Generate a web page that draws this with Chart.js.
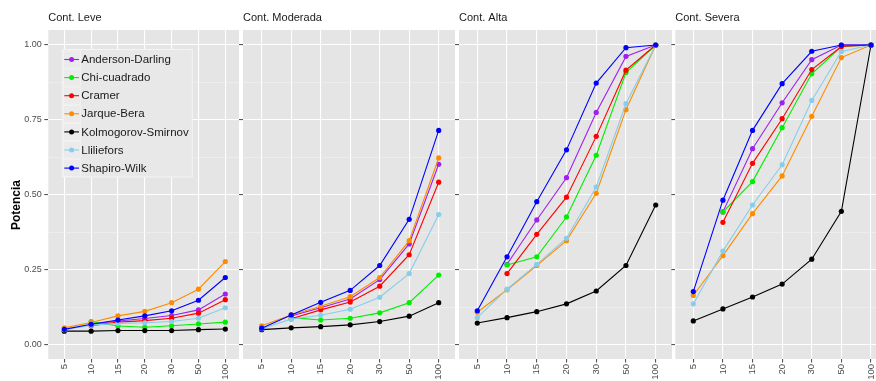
<!DOCTYPE html>
<html><head><meta charset="utf-8">
<script src="https://cdn.jsdelivr.net/npm/chart.js@4.4.1/dist/chart.umd.min.js"></script>
<style>
html,body{margin:0;padding:0;background:#fff;width:876px;height:381px;overflow:hidden;position:relative;}
canvas{position:absolute;left:0;top:0;}
</style></head><body>
<canvas id="c0" width="900" height="381"></canvas>
<canvas id="c1" width="900" height="381"></canvas>
<canvas id="c2" width="900" height="381"></canvas>
<canvas id="c3" width="900" height="381"></canvas>
<script>
// ---- data ----
const categories = ['5', '10', '15', '20', '30', '50', '100'];
const tests = ['Anderson-Darling', 'Chi-cuadrado', 'Cramer', 'Jarque-Bera', 'Kolmogorov-Smirnov', 'Lliliefors', 'Shapiro-Wilk'];
const panelTitles = ['Cont. Leve', 'Cont. Moderada', 'Cont. Alta', 'Cont. Severa'];
const yTicks = [0, 0.25, 0.5, 0.75, 1.0];
const yMinorTicks = [0.125, 0.375, 0.625, 0.875];

// rows follow the order of `tests`; null = not computed for that size
const leve = [
  [null, 0.068, 0.079, 0.087, 0.097, 0.116, 0.169],
  [null, 0.077, 0.062, 0.058, 0.063, 0.069, 0.075],
  [null, 0.063, 0.075, 0.080, 0.088, 0.105, 0.150],
  [0.056, 0.074, 0.096, 0.111, 0.140, 0.185, 0.277],
  [0.045, 0.045, 0.047, 0.047, 0.047, 0.050, 0.052],
  [0.050, 0.065, 0.071, 0.073, 0.077, 0.088, 0.123],
  [0.051, 0.068, 0.082, 0.096, 0.113, 0.148, 0.224]
];
const moderada = [
  [null, 0.096, 0.123, 0.152, 0.217, 0.336, 0.602],
  [null, 0.090, 0.082, 0.088, 0.106, 0.140, 0.232],
  [null, 0.086, 0.116, 0.142, 0.195, 0.300, 0.542],
  [0.063, 0.099, 0.128, 0.160, 0.224, 0.347, 0.623],
  [0.050, 0.056, 0.060, 0.066, 0.077, 0.095, 0.140],
  [0.053, 0.085, 0.098, 0.118, 0.158, 0.237, 0.434],
  [0.055, 0.099, 0.141, 0.181, 0.264, 0.418, 0.715]
];
const alta = [
  [null, 0.268, 0.416, 0.557, 0.775, 0.962, 1.000],
  [null, 0.266, 0.293, 0.426, 0.632, 0.908, 1.000],
  [null, 0.237, 0.368, 0.492, 0.695, 0.916, 1.000],
  [0.108, 0.183, 0.264, 0.347, 0.505, 0.784, 1.000],
  [0.072, 0.090, 0.110, 0.136, 0.179, 0.264, 0.466],
  [0.090, 0.185, 0.268, 0.355, 0.526, 0.804, 1.000],
  [0.113, 0.293, 0.477, 0.650, 0.873, 0.991, 1.000]
];
const severa = [
  [null, 0.443, 0.654, 0.807, 0.951, 1.000, 1.000],
  [null, 0.443, 0.544, 0.724, 0.904, 0.995, 1.000],
  [null, 0.408, 0.605, 0.754, 0.918, 0.995, 1.000],
  [0.164, 0.297, 0.437, 0.563, 0.762, 0.958, 1.000],
  [0.079, 0.119, 0.159, 0.202, 0.285, 0.445, 1.000],
  [0.136, 0.312, 0.466, 0.600, 0.815, 0.978, 1.000],
  [0.177, 0.482, 0.715, 0.871, 0.979, 1.000, 1.000]
];
const panelData = [leve, moderada, alta, severa];

// ---- styling / layout ----
const colors = ['#A020F0', '#00EE00', '#FF0000', '#FF8C00', '#000000', '#87CEEB', '#0000FF'];
const FONT = "'Liberation Sans', Arial, Helvetica, sans-serif";
Chart.defaults.font.family = FONT;
const CANVAS_W = 900;
const PLOT_TOP = 30, PLOT_BOTTOM = 359;
// panel geometry: left/right edge of the grey area, pixel of first and last category
const geom = [
  {L: 48.3, R: 239.0, x1: 64.3, x7: 225.3},
  {L: 243.0, R: 455.0, x1: 261.7, x7: 438.7},
  {L: 459.0, R: 672.0, x1: 477.3, x7: 655.7},
  {L: 675.3, R: 888.8, x1: 693.3, x7: 871.0}
];
const Y_AXIS_W = 48.3;

const panelBg = {
  id: 'panelBg',
  beforeDraw(chart) {
    const a = chart.chartArea, ctx = chart.ctx;
    ctx.save();
    ctx.fillStyle = '#E5E5E5';
    ctx.fillRect(a.left, a.top, a.right - a.left, a.bottom - a.top);
    ctx.restore();
  }
};

const extras = {
  id: 'extras',
  afterDraw(chart, args, opts) {
    if (!opts.first) return;
    const ctx = chart.ctx;
    // y axis title
    ctx.save();
    ctx.translate(16.5, 205);
    ctx.rotate(-Math.PI / 2);
    ctx.font = 'bold 12px ' + FONT;
    ctx.fillStyle = '#000';
    ctx.textAlign = 'center';
    ctx.textBaseline = 'middle';
    ctx.fillText('Potencia', 0, 0);
    ctx.restore();
    // legend inside first panel
    const bx = 62.3, by = 49.5, rowH = 18.1;
    ctx.save();
    ctx.fillStyle = '#E8E8E8';
    ctx.strokeStyle = '#F4F4F4';
    ctx.lineWidth = 1;
    ctx.fillRect(bx, by, 130, 127.5);
    ctx.strokeRect(bx, by, 130, 127.5);
    ctx.font = '11.5px ' + FONT;
    ctx.textBaseline = 'middle';
    ctx.textAlign = 'left';
    tests.forEach((t, i) => {
      const cy = by + 10 + rowH * i;
      ctx.fillStyle = '#EBEBEB';
      ctx.strokeStyle = '#F6F6F6';
      ctx.lineWidth = 0.6;
      ctx.fillRect(bx + 1, cy - 8.5, 17, 17);
      ctx.strokeRect(bx + 1, cy - 8.5, 17, 17);
      ctx.strokeStyle = colors[i];
      ctx.lineWidth = 1.1;
      ctx.beginPath();
      ctx.moveTo(bx + 2, cy);
      ctx.lineTo(bx + 16.7, cy);
      ctx.stroke();
      ctx.fillStyle = colors[i];
      ctx.beginPath();
      ctx.arc(bx + 9.3, cy, 2.5, 0, Math.PI * 2);
      ctx.fill();
      ctx.fillStyle = '#1A1A1A';
      ctx.fillText(t, bx + 19, cy + 0.5);
    });
    ctx.restore();
  }
};

function makeChart(p) {
  const g = geom[p];
  const s = (g.x7 - g.x1) / 6;
  const xmin = 1 - (g.x1 - g.L) / s;
  const xmax = 7 + (g.R - g.x7) / s;
  const first = p === 0;
  const yw = first ? Y_AXIS_W : 0;
  const datasets = tests.map((t, i) => ({
    label: t,
    data: panelData[p][i].map((v, k) => ({x: k + 1, y: v})),
    borderColor: colors[i],
    backgroundColor: colors[i],
    borderWidth: 1.1,
    pointRadius: 2.6,
    pointBorderWidth: 0,
    pointHoverRadius: 2.6,
    tension: 0,
    spanGaps: false,
    order: tests.length - 1 - i
  }));
  return new Chart(document.getElementById('c' + p), {
    type: 'line',
    data: {datasets},
    plugins: [panelBg, extras],
    options: {
      responsive: false,
      animation: false,
      devicePixelRatio: 1,
      events: [],
      layout: {padding: {left: g.L - yw, right: CANVAS_W - g.R, top: 0, bottom: 0}},
      plugins: {
        legend: {display: false},
        tooltip: {enabled: false},
        title: {
          display: true,
          text: panelTitles[p],
          align: 'start',
          fullSize: false,
          color: '#1A1A1A',
          font: {size: 11, weight: 'normal', family: FONT, lineHeight: 1.2},
          padding: {top: 10.9, bottom: 5.9}
        },
        extras: {first}
      },
      scales: {
        x: {
          type: 'linear',
          min: xmin,
          max: xmax,
          afterBuildTicks: (sc) => { sc.ticks = categories.map((c, k) => ({value: k + 1})); },
          afterFit: (sc) => { sc.height = 381 - PLOT_BOTTOM; },
          border: {display: false},
          grid: {color: '#FFFFFF', lineWidth: 1.1, tickColor: '#555555', tickLength: 3.5, drawTicks: true},
          ticks: {
            autoSkip: false,
            minRotation: 90,
            maxRotation: 90,
            padding: 1.5,
            color: '#4D4D4D',
            font: {size: 9.5, family: FONT},
            callback: (v) => categories[Math.round(v) - 1]
          }
        },
        y: {
          type: 'linear',
          min: -0.048,
          max: 1.05,
          afterBuildTicks: (sc) => {
            sc.ticks = yTicks.concat(yMinorTicks).sort((a, b) => a - b).map(v => ({value: v}));
          },
          afterFit: (sc) => { sc.width = yw; },
          border: {display: false},
          grid: {
            color: (c) => yTicks.includes(c.tick && c.tick.value) ? '#FFFFFF' : '#F2F2F2',
            lineWidth: (c) => yTicks.includes(c.tick && c.tick.value) ? 1.1 : 0.6,
            tickColor: (c) => yTicks.includes(c.tick && c.tick.value) ? '#555555' : 'rgba(0,0,0,0)',
            tickLength: 4,
            drawTicks: true
          },
          ticks: {
            display: first,
            autoSkip: false,
            padding: 2.5,
            color: '#4D4D4D',
            font: {size: 9, family: FONT},
            callback: (v) => yTicks.includes(v) ? v.toFixed(2) : ''
          }
        }
      }
    }
  });
}

[0, 1, 2, 3].forEach(makeChart);
</script>
</body></html>
